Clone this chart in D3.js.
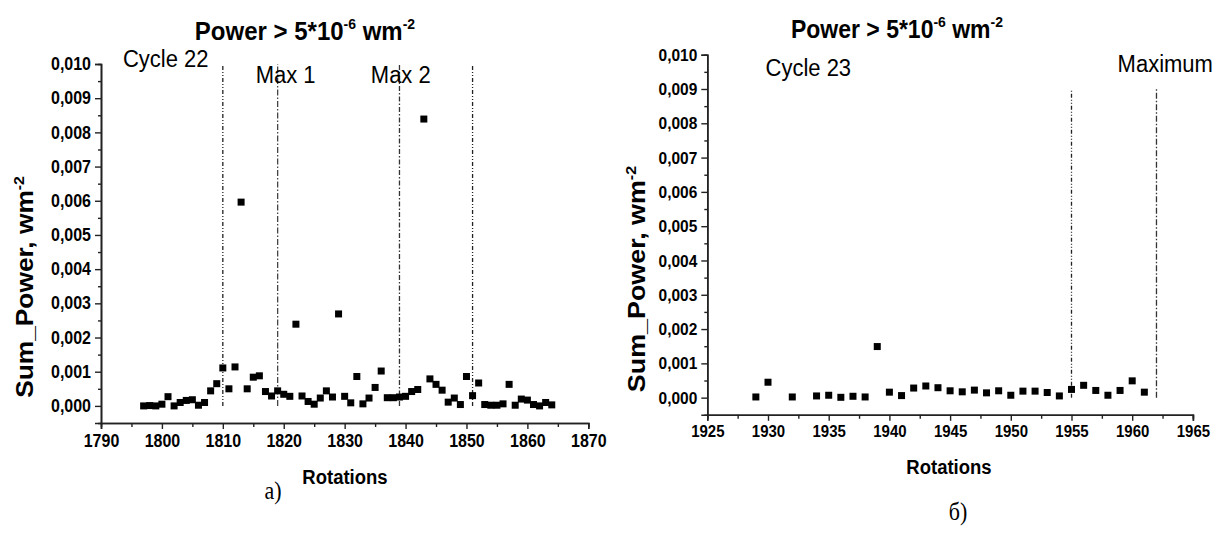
<!DOCTYPE html>
<html><head><meta charset="utf-8">
<script src="https://cdn.jsdelivr.net/npm/d3@7"></script>
<style>body{margin:0;background:#fff}svg{display:block}
text.s{transform-box:fill-box;transform-origin:center;transform:scaleY(1.1)}</style>
</head><body>
<svg id="c" width="1222" height="539"></svg>
<script>
// ---- data ----
const rotA = [1797,1798,1799,1800,1801,1802,1803,1804,1805,1806,1807,1808,1809,1810,1811,1812,1813,1814,1815,1816,1817,1818,1819,1820,1821,1822,1823,1824,1825,1826,1827,1828,1829,1830,1831,1832,1833,1834,1835,1836,1837,1838,1839,1840,1841,1842,1843,1844,1845,1846,1847,1848,1849,1850,1851,1852,1853,1854,1855,1856,1857,1858,1859,1860,1861,1862,1863,1864];
const powA = [0.00000,0.00001,0.00000,0.00005,0.00027,0.00000,0.00010,0.00016,0.00018,0.00002,0.00010,0.00044,0.00065,0.00111,0.00050,0.00114,0.00596,0.00050,0.00084,0.00088,0.00042,0.00029,0.00044,0.00034,0.00028,0.00239,0.00029,0.00013,0.00005,0.00023,0.00044,0.00026,0.00269,0.00028,0.00009,0.00086,0.00006,0.00023,0.00054,0.00102,0.00024,0.00024,0.00026,0.00028,0.00042,0.00048,0.00839,0.00079,0.00063,0.00046,0.00011,0.00023,0.00004,0.00086,0.00030,0.00067,0.00004,0.00002,0.00002,0.00006,0.00063,0.00002,0.00020,0.00017,0.00004,0.00000,0.00010,0.00003];
const rotB = [1929,1930,1932,1934,1935,1936,1937,1938,1939,1940,1941,1942,1943,1944,1945,1946,1947,1948,1949,1950,1951,1952,1953,1954,1955,1956,1957,1958,1959,1960,1961];
const powB = [0.00002,0.00045,0.00002,0.00005,0.00007,0.00001,0.00004,0.00002,0.00149,0.00016,0.00006,0.00028,0.00034,0.00029,0.00020,0.00017,0.00022,0.00014,0.00020,0.00007,0.00019,0.00019,0.00015,0.00005,0.00024,0.00036,0.00021,0.00007,0.00021,0.00049,0.00016];
const yTicks = [0,0.001,0.002,0.003,0.004,0.005,0.006,0.007,0.008,0.009,0.010];
const xTicksA = [1790,1800,1810,1820,1830,1840,1850,1860,1870];
const xTicksB = [1925,1930,1935,1940,1945,1950,1955,1960,1965];
const vLinesA = [1810,1819,1839,1851];
const vLinesB = [1955,1962];
const notesA = [{t:"Cycle 22",x:1793.6,y:0.00994},{t:"Max 1",x:1815.4,y:0.00948},{t:"Max 2",x:1834.3,y:0.00946}];
const notesB = [{t:"Cycle 23",x:1929.8,y:0.00941},{t:"Maximum",x:1958.8,y:0.00952}];

const svg = d3.select("#c");
const loc = d3.formatLocale({decimal:",",thousands:" ",grouping:[3],currency:["",""]});
const fmt = loc.format(".3f");
const FF = "Liberation Sans, Arial, sans-serif";

function panel(o){
  const x = d3.scaleLinear().domain(o.xDom).range(o.xRange);
  const y = d3.scaleLinear().domain([-0.0005,0.010]).range(o.yRange);
  const g = svg.append("g");
  o.vl.forEach((v,i)=>{
    g.append("line").attr("x1",x(v)).attr("x2",x(v)).attr("y1",y(0)).attr("y2",y(o.vTop))
     .attr("stroke",o.vColor[i]).attr("stroke-width",1.3).attr("stroke-dasharray",o.vDash[i]);
  });
  const ya = g.append("g").attr("transform",`translate(${o.xRange[0]},0)`)
    .call(d3.axisLeft(y).tickValues(yTicks).tickFormat(fmt).tickSize(6).tickPadding(4));
  const yMinor = g.append("g").attr("transform",`translate(${o.xRange[0]},0)`)
    .call(d3.axisLeft(y).tickValues(yTicks.slice(0,-1).map(d=>d+0.0005)).tickFormat("").tickSize(3));
  const xa = g.append("g").attr("transform",`translate(0,${o.yRange[0]})`)
    .call(d3.axisBottom(x).tickValues(o.xt).tickFormat(d3.format("d")).tickSize(6).tickPadding(o.txPad));
  const minors = [];
  for(let i=0;i<o.xt.length-1;i++) minors.push((o.xt[i]+o.xt[i+1])/2);
  const xMinor = g.append("g").attr("transform",`translate(0,${o.yRange[0]})`)
    .call(d3.axisBottom(x).tickValues(minors).tickFormat("").tickSize(4));
  [ya,yMinor,xa,xMinor].forEach(a=>{
    a.select(".domain").attr("stroke","#222").attr("stroke-width",1.6);
    a.selectAll(".tick line").attr("stroke","#222").attr("stroke-width",1.4);
  });
  ya.selectAll("text").attr("class","s").attr("font-family",FF).attr("font-weight","bold").attr("font-size",o.tyFs).attr("fill","#000");
  xa.selectAll("text").attr("class","s").attr("font-family",FF).attr("font-weight","bold").attr("font-size",o.txFs).attr("fill","#000");
  const sz = 7;
  g.selectAll("rect.p").data(o.rot.map((r,i)=>({r,v:o.pow[i]}))).enter().append("rect")
    .attr("x",d=>x(d.r)-sz/2).attr("y",d=>y(d.v)-sz/2).attr("width",sz).attr("height",sz).attr("fill","#000");
  o.notes.forEach(n=>{
    g.append("text").attr("class","s").attr("x",x(n.x)).attr("y",y(n.y)).text(n.t)
     .attr("font-family",FF).attr("font-size",o.noteFs).attr("fill","#000");
  });
  const t = g.append("text").attr("class","s").attr("x",o.titleX).attr("y",o.titleY).attr("text-anchor","middle")
    .attr("font-family",FF).attr("font-weight","bold").attr("font-size",o.titleFs).attr("fill","#000");
  t.append("tspan").text("Power > 5*10");
  t.append("tspan").attr("dy",-10).attr("font-size",14).text("-6");
  t.append("tspan").attr("dy",10).text(" wm");
  t.append("tspan").attr("dy",-10).attr("font-size",14).text("-2");
  g.append("text").attr("class","s").attr("x",o.xlX).attr("y",o.xlY).attr("text-anchor","middle")
    .attr("font-family",FF).attr("font-weight","bold").attr("font-size",18.5).text("Rotations");
  const yl = g.append("text").attr("transform",`translate(${o.ylX},${o.ylY}) rotate(-90) scale(1.12,1)`).attr("text-anchor","middle")
    .attr("font-family",FF).attr("font-weight","bold").attr("font-size",o.ylFs);
  yl.append("tspan").text("Sum_Power, wm");
  yl.append("tspan").attr("dy",-9).attr("font-size",o.ylFs*0.6).text("-2");
  g.append("text").attr("class","s").attr("x",o.letX).attr("y",o.letY).attr("text-anchor","middle")
    .attr("font-family","Liberation Serif, DejaVu Serif, serif").attr("font-size",22).text(o.letter);
}

panel({xDom:[1790,1870],xRange:[101,588.3],yRange:[423,64],rot:rotA,pow:powA,xt:xTicksA,
  vl:vLinesA,vTop:0.010,vColor:["#222","#444","#333","#222"],vDash:["4,2,1,2,1,2","6,2,1.5,2","5,2,1.5,2","4,2,1,2,1,2"],
  notes:notesA,noteFs:22,titleX:305,titleY:39,titleFs:24,xlX:345,xlY:483,ylX:33,ylY:287,ylFs:23.5,tyFs:16,txFs:16,txPad:6,
  letX:273,letY:498,letter:"а)"});
panel({xDom:[1925,1965],xRange:[707.3,1192.9],yRange:[414.8,54.7],rot:rotB,pow:powB,xt:xTicksB,
  vl:vLinesB,vTop:0.009,vColor:["#222","#333"],vDash:["4,2,1,2,1,2","6,2,1.5,2"],
  notes:notesB,noteFs:22,titleX:897,titleY:37,titleFs:23,xlX:949,xlY:473,ylX:645,ylY:279,ylFs:24,tyFs:15.5,txFs:15,txPad:5,
  letX:958,letY:519,letter:"б)"});
</script>
</body></html>
